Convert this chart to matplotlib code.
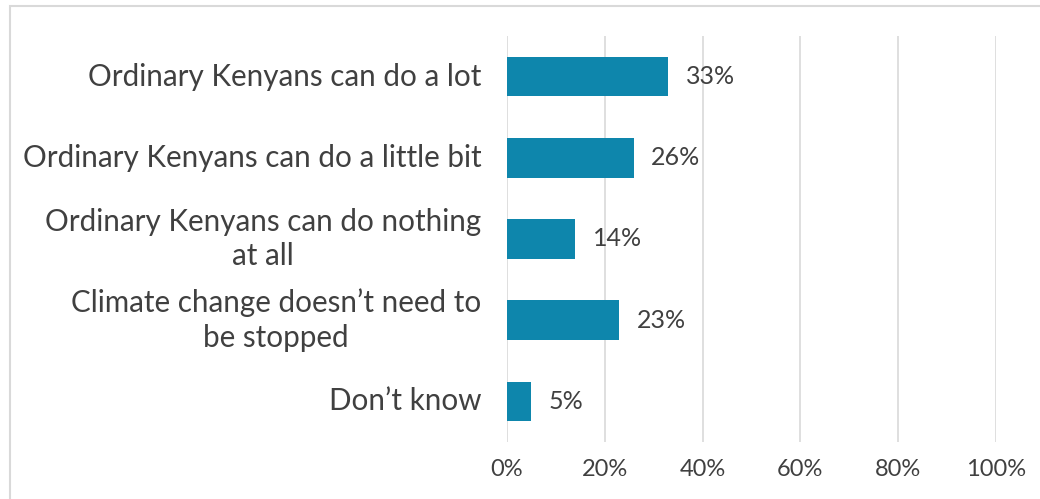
import matplotlib.pyplot as plt
from matplotlib.patches import Rectangle

categories = [
    "Ordinary Kenyans can do a lot",
    "Ordinary Kenyans can do a little bit",
    "Ordinary Kenyans can do nothing\nat all",
    "Climate change doesn\u2019t need to\nbe stopped",
    "Don\u2019t know",
]
values = [33, 26, 14, 23, 5]
ticks = [0, 20, 40, 60, 80, 100]

BAR = "#0E86AC"
TXT = "#404040"
plt.rcParams["font.family"] = ["Lato", "DejaVu Sans"]

fig = plt.figure(figsize=(10.4, 4.99), dpi=100)
ax = fig.add_axes([507 / 1040, 1 - 442 / 499, (996 - 507) / 1040, (442 - 36) / 499])

y = list(range(len(categories)))
ax.barh(y, values, height=0.49, color=BAR, zorder=3)
ax.set_ylim(len(categories) - 0.5, -0.5)
ax.set_xlim(0, 100)

for yi, v in zip(y, values):
    ax.text(v + 3.5, yi, f"{v}%", va="center", ha="left", fontsize=18, color=TXT)

ax.set_yticks(y)
ax.set_yticklabels(categories, fontsize=21.3, color=TXT, linespacing=1.3)
for lab in ax.get_yticklabels():
    lab.set_multialignment("center")
    lab.set_verticalalignment("center")
ax.set_xticks(ticks)
ax.set_xticklabels([f"{t}%" for t in ticks], fontsize=17, color=TXT)
ax.tick_params(axis="y", length=0, pad=18.5)
ax.tick_params(axis="x", length=0, pad=12)
ax.grid(axis="x", color="#d9d9d9", linewidth=1.2, zorder=0)
for s in ax.spines.values():
    s.set_visible(False)

fig.patches.append(Rectangle((10 / 1040, -0.1), 1.1, 1 - 6 / 499 + 0.1,
                             transform=fig.transFigure, fill=False,
                             edgecolor="#d9d9d9", linewidth=1.5))

fig.savefig("out.png", dpi=100)
